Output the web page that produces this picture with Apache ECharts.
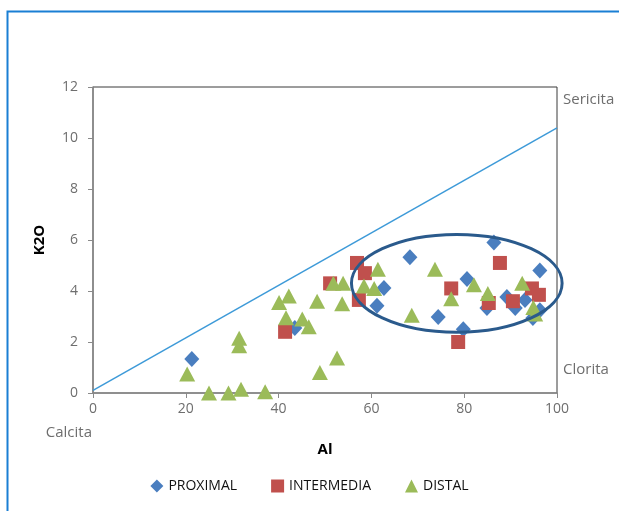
<!DOCTYPE html>
<html>
<head>
<meta charset="utf-8">
<script src="https://cdn.jsdelivr.net/npm/echarts@6/dist/echarts.min.js"></script>
<style>
  html, body { margin: 0; padding: 0; background: #fff; }
  #chart { width: 619px; height: 511px; }
</style>
</head>
<body>
<div id="chart"></div>
<script>
// Al vs K2O samples grouped by zone
const proximal = [
  [21.3, 1.33], [68.3, 5.32], [62.7, 4.12], [61.2, 3.42], [43.5, 2.55],
  [86.4, 5.9], [96.3, 4.8], [80.6, 4.47], [74.4, 2.98], [79.8, 2.5],
  [84.9, 3.33], [89.2, 3.76], [91.0, 3.33], [94.8, 2.94], [93.1, 3.65],
  [96.3, 3.25]
];
const intermedia = [
  [41.4, 2.4], [51.1, 4.3], [56.9, 5.1], [58.6, 4.7], [57.3, 3.65],
  [87.7, 5.1], [77.2, 4.1], [78.7, 2.0], [85.3, 3.53], [90.5, 3.6],
  [94.6, 4.1], [96.1, 3.85]
];
const distal = [
  [20.3, 0.75], [25.0, 0.0], [29.2, 0.0], [31.9, 0.15], [37.1, 0.05],
  [31.5, 2.15], [31.5, 1.85], [48.9, 0.8], [52.6, 1.37], [40.1, 3.55],
  [42.2, 3.8], [41.6, 2.95], [45.1, 2.9], [46.5, 2.6], [48.3, 3.6],
  [53.7, 3.5], [51.8, 4.3], [53.9, 4.3], [61.4, 4.85], [58.4, 4.2],
  [60.6, 4.1], [68.7, 3.05], [73.7, 4.85], [77.2, 3.7], [82.1, 4.25],
  [85.1, 3.9], [92.5, 4.3], [94.9, 3.35], [95.3, 3.1]
];
// Calcita -> Sericita reference line
const refLine = [[0, 0.1], [100, 10.4]];
// Highlighted cluster: centre and half-axes in data units
const clusterCenter = [78.4, 4.3];
const clusterRadius = [22.7, 1.92];

const xTicks = [0, 20, 40, 60, 80, 100];
const yTicks = [0, 2, 4, 6, 8, 10, 12];

const FONT = '"Open Sans", "Liberation Sans", sans-serif';
const chart = echarts.init(document.getElementById('chart'));

const option = {
  animation: false,
  backgroundColor: '#fff',
  grid: {
    left: 93, top: 87, right: 62, bottom: 118,
    show: true, borderColor: '#3a3a3a', borderWidth: 1
  },
  xAxis: {
    type: 'value', min: xTicks[0], max: xTicks[xTicks.length - 1], interval: 20,
    name: 'Al', nameLocation: 'middle', nameGap: 49,
    nameTextStyle: { fontFamily: FONT, fontSize: 15, fontWeight: 'bold', color: '#000' },
    axisLine: { lineStyle: { color: '#8a8a8a', width: 1.5 } },
    axisTick: { show: true, length: 5, lineStyle: { color: '#8a8a8a' } },
    axisLabel: { fontFamily: FONT, fontSize: 14, color: '#6e6e6e', margin: 9 },
    splitLine: { show: false }
  },
  yAxis: {
    type: 'value', min: yTicks[0], max: yTicks[yTicks.length - 1], interval: 2,
    name: 'K2O', nameLocation: 'middle', nameGap: 46, nameRotate: 90,
    nameTextStyle: { fontFamily: FONT, fontSize: 15, fontWeight: 'bold', color: '#000' },
    axisLine: { lineStyle: { color: '#8a8a8a', width: 1.5 } },
    axisTick: { show: true, length: 5, lineStyle: { color: '#8a8a8a' } },
    axisLabel: { fontFamily: FONT, fontSize: 14, color: '#6e6e6e', margin: 15 },
    splitLine: { show: false }
  },
  legend: {
    bottom: 13, left: 'center', itemGap: 34, itemWidth: 13, itemHeight: 13,
    textStyle: { fontFamily: FONT, fontSize: 14, color: '#111' },
    data: [
      { name: 'PROXIMAL', icon: 'diamond' },
      { name: 'INTERMEDIA', icon: 'rect' },
      { name: 'DISTAL', icon: 'triangle' }
    ]
  },
  series: [
    {
      type: 'line', data: refLine, symbol: 'none', silent: true,
      lineStyle: { color: '#3d9ad8', width: 1.5 }, z: 1
    },
    {
      name: 'PROXIMAL', type: 'scatter', data: proximal,
      symbol: 'diamond', symbolSize: [15, 16],
      itemStyle: { color: '#4a7ebf', opacity: 1 }, z: 3
    },
    {
      name: 'INTERMEDIA', type: 'scatter', data: intermedia,
      symbol: 'rect', symbolSize: 14,
      itemStyle: { color: '#c0504d', opacity: 1 }, z: 4
    },
    {
      name: 'DISTAL', type: 'scatter', data: distal,
      symbol: 'triangle', symbolSize: [16, 15],
      itemStyle: { color: '#9bbb59', opacity: 1 }, z: 5
    }
  ]
};
chart.setOption(option);

// Cluster ellipse and end-member labels placed through the axis scales
const c = chart.convertToPixel({ gridIndex: 0 }, clusterCenter);
const e = chart.convertToPixel({ gridIndex: 0 },
  [clusterCenter[0] + clusterRadius[0], clusterCenter[1] + clusterRadius[1]]);
const pSer = chart.convertToPixel({ gridIndex: 0 }, [100, 11.5]);
const pClo = chart.convertToPixel({ gridIndex: 0 }, [100, 0.9]);
const pCal = chart.convertToPixel({ gridIndex: 0 }, [0, -1.55]);

const labelStyle = { fontFamily: FONT, fontSize: 15, fill: '#6e6e6e' };
chart.setOption({
  graphic: [
    {
      type: 'rect', left: 5, top: 9, z: 0, silent: true,
      shape: { width: 700, height: 600 },
      style: { fill: 'none', stroke: '#1a7fd4', lineWidth: 2 }
    },
    {
      type: 'ellipse', z: 100, silent: true,
      shape: { cx: c[0], cy: c[1], rx: e[0] - c[0], ry: c[1] - e[1] },
      style: { fill: 'none', stroke: '#2a5a8c', lineWidth: 3 }
    },
    {
      type: 'text', z: 100, x: pSer[0] + 6, y: pSer[1], silent: true,
      style: Object.assign({ text: 'Sericita', verticalAlign: 'middle' }, labelStyle)
    },
    {
      type: 'text', z: 100, x: pClo[0] + 6, y: pClo[1], silent: true,
      style: Object.assign({ text: 'Clorita', verticalAlign: 'middle' }, labelStyle)
    },
    {
      type: 'text', z: 100, x: pCal[0] - 1, y: pCal[1], silent: true,
      style: Object.assign({ text: 'Calcita', align: 'right', verticalAlign: 'middle' }, labelStyle)
    }
  ]
});
</script>
</body>
</html>
